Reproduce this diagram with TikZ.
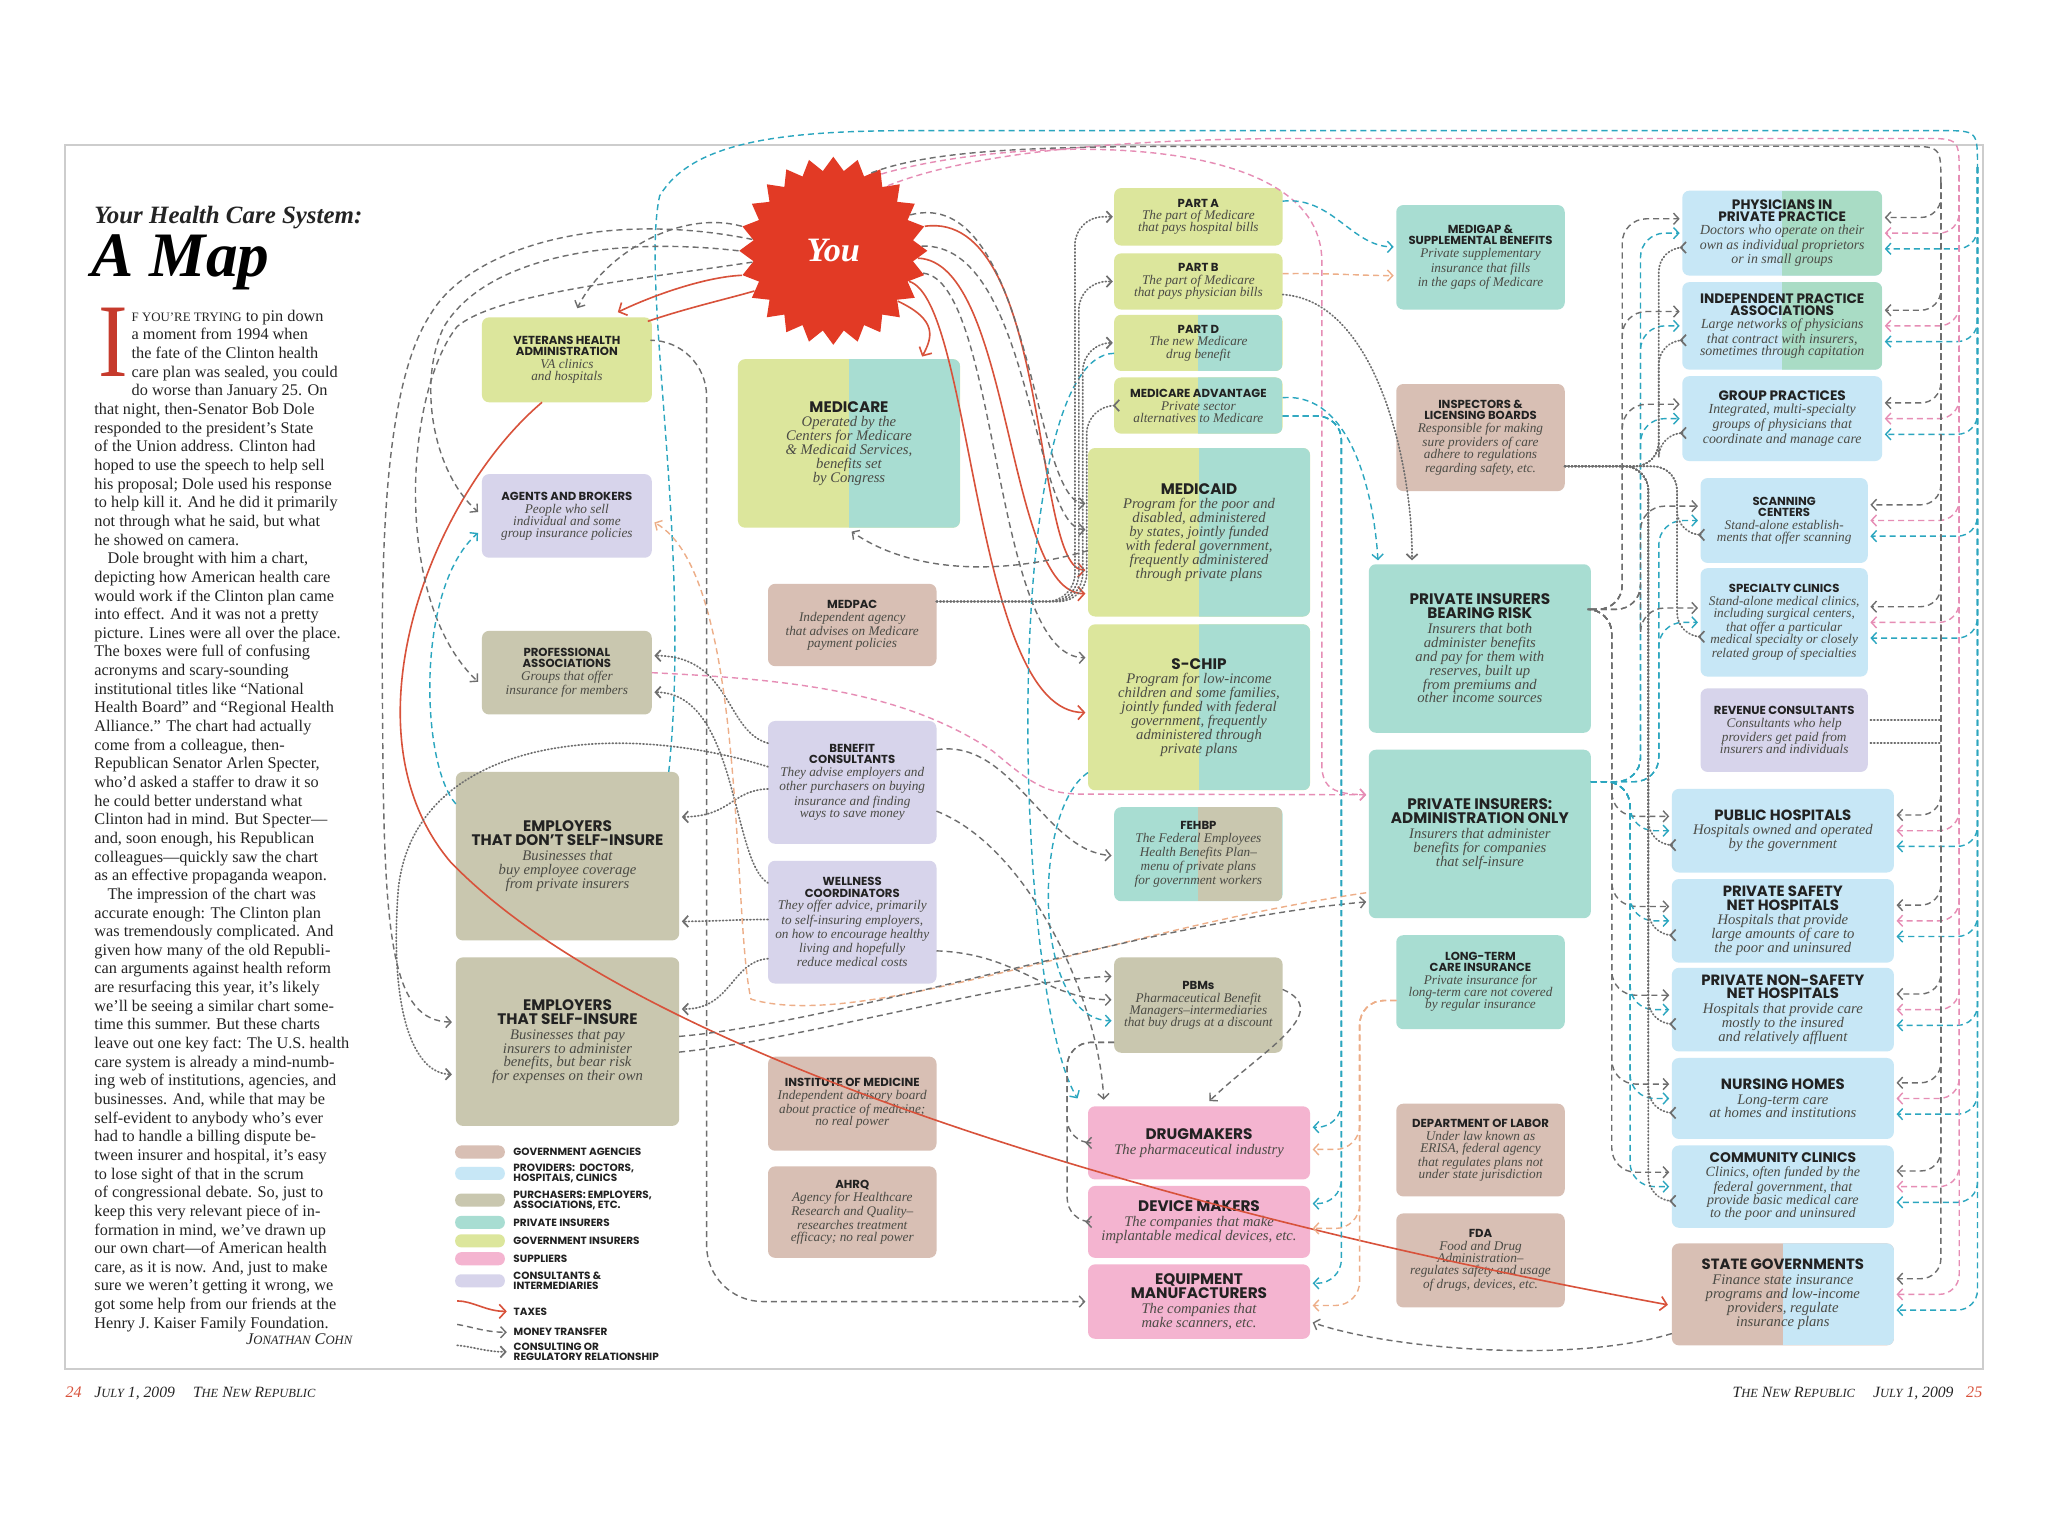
\documentclass[tikz,border=0pt]{standalone}
\usepackage{fontspec}
\setmainfont{Liberation Serif}
\newfontfamily\hd{Poppins}
\usepackage{graphicx}
\usetikzlibrary{shapes.geometric,arrows.meta,calc}
\newlength\un\setlength\un{0.65pt}
\definecolor{gvag}{HTML}{D8BFB4}
\definecolor{prov}{HTML}{C7E7F6}
\definecolor{purc}{HTML}{C9C7AF}
\definecolor{pins}{HTML}{A8DDD2}
\definecolor{gins}{HTML}{DCE69C}
\definecolor{supp}{HTML}{F4B4D0}
\definecolor{cons}{HTML}{D7D4EB}
\definecolor{physg}{HTML}{A9DCC5}
\definecolor{starred}{HTML}{E23A25}
\definecolor{taxred}{HTML}{D8523B}
\definecolor{dropred}{HTML}{C63A2C}
\definecolor{cg}{HTML}{6E6E6E}
\definecolor{ct}{HTML}{2BA6BF}
\definecolor{cp}{HTML}{E68DB5}
\definecolor{co}{HTML}{EDAE88}
\definecolor{ttext}{HTML}{222222}
\definecolor{dtext}{HTML}{4B4B45}
\definecolor{btext}{HTML}{242424}
\definecolor{framec}{HTML}{CDCDCD}
\def\tsz{5.8}\def\tld{5.5}\def\dsz{6.6}\def\dld{6.0}
\newcommand\fsc[2]{#1{\fontsize{6.2}{6.5}\selectfont #2}}
\newcommand\bx[7]{\node[bxs,#5,minimum width=#3*\un,minimum height=#4*\un] (#1) at #2
 {\begin{minipage}{\dimexpr#3\un-4pt\relax}\centering
 {\hd\bfseries\fontsize{\tsz}{\tld}\selectfont\color{ttext}#6\par}\vspace{0.4pt}
 {\itshape\fontsize{\dsz}{\dld}\selectfont\color{dtext}#7\par}\end{minipage}};}
\tikzset{
 bxs/.style={rounded corners=3.5pt,inner sep=0pt,outer sep=0pt},
 half/.style={path picture={\fill[#1,sharp corners] (path picture bounding box.north) rectangle (path picture bounding box.south east);}},
 tfont/.code 2 args={\def\tsz{#1}\def\tld{#2}},
 dfont/.code 2 args={\def\dsz{#1}\def\dld{#2}},
 szS/.style={tfont={5.8}{5.5},dfont={6.6}{6.0}},
 szM/.style={tfont={6.8}{6.2},dfont={6.9}{6.0}},
 szL/.style={tfont={7.6}{7.1},dfont={7.3}{6.9}},
 atip/.style={-{Straight Barb[length=2.6pt,width=5.6pt]}},
 tax/.style={draw=taxred,line width=0.8pt,-{Straight Barb[length=3.2pt,width=7pt]}},
 mon/.style={line width=0.7pt,dash pattern=on 3pt off 2pt,atip},
 con/.style={line width=0.85pt,dash pattern=on 0.5pt off 1.2pt,line cap=round,atip},
 lgsw/.style={rounded corners=3pt,minimum width=38*\un,minimum height=10*\un,inner sep=0pt},
 lgtx/.style={anchor=west,inner sep=0pt,align=left,text=ttext,font=\hd\bfseries\fontsize{5.2}{4.9}\selectfont},
 btx/.style={anchor=north west,align=left,inner sep=0pt,text=btext,font=\fontsize{8.1}{9.28}\selectfont},
}
\begin{document}
\begin{tikzpicture}[x=0.65pt,y=-0.65pt]
\useasboundingbox[fill=white] (0,0) rectangle (1568,1176);
\draw[framec,line width=0.9pt] (50,111) rectangle (1518,1048);
% ---------------- left text column
\node[anchor=base west,inner sep=0pt,text=btext,font=\fontsize{12.4}{13}\selectfont\bfseries\itshape] (ttl) at (72,171) {Your Health Care System:};
\node[anchor=base west,inner sep=0pt,text=black,font=\fontsize{31.5}{31.5}\selectfont\bfseries\itshape] (amap) at (70,212) {A Map};
\node[anchor=base west,inner sep=0pt,text=dropred,font=\fontsize{52}{52}\selectfont] (dcap) at (75,288) {\scalebox{0.85}[1]{I}};
\node[btx] (body1) at (100.5,237) {%
{\fontsize{6.4}{9.28}\selectfont F YOU’RE TRYING} to pin down\\
a moment from 1994 when\\
the fate of the Clinton health\\
care plan was sealed, you could\\
do worse than January 25. On};
\node[btx] (body2) at (72,308.4) {%
that night, then-Senator Bob Dole\\
responded to the president’s State\\
of the Union address. Clinton had\\
hoped to use the speech to help sell\\
his proposal; Dole used his response\\
to help kill it. And he did it primarily\\
not through what he said, but what\\
he showed on camera.\\
\hspace*{6.5pt}Dole brought with him a chart,\\
depicting how American health care\\
would work if the Clinton plan came\\
into effect. And it was not a pretty\\
picture. Lines were all over the place.\\
The boxes were full of confusing\\
acronyms and scary-sounding\\
institutional titles like “National\\
Health Board” and “Regional Health\\
Alliance.” The chart had actually\\
come from a colleague, then-\\
Republican Senator Arlen Specter,\\
who’d asked a staffer to draw it so\\
he could better understand what\\
Clinton had in mind. But Specter—\\
and, soon enough, his Republican\\
colleagues—quickly saw the chart\\
as an effective propaganda weapon.\\
\hspace*{6.5pt}The impression of the chart was\\
accurate enough: The Clinton plan\\
was tremendously complicated. And\\
given how many of the old Republi-\\
can arguments against health reform\\
are resurfacing this year, it’s likely\\
we’ll be seeing a similar chart some-\\
time this summer. But these charts\\
leave out one key fact: The U.S. health\\
care system is already a mind-numb-\\
ing web of institutions, agencies, and\\
businesses. And, while that may be\\
self-evident to anybody who’s ever\\
had to handle a billing dispute be-\\
tween insurer and hospital, it’s easy\\
to lose sight of that in the scrum\\
of congressional debate. So, just to\\
keep this very relevant piece of in-\\
formation in mind, we’ve drawn up\\
our own chart—of American health\\
care, as it is now. And, just to make\\
sure we weren’t getting it wrong, we\\
got some help from our friends at the\\
Henry J. Kaiser Family Foundation.};
\node[anchor=base east,inner sep=0pt,text=btext,font=\fontsize{8.1}{9}\selectfont\itshape] (sig) at (270,1029) {J{\fontsize{6.3}{9}\selectfont ONATHAN} C{\fontsize{6.3}{9}\selectfont OHN}};
% ---------------- footer
\node[anchor=base west,inner sep=0pt,text=taxred,font=\fontsize{8}{8}\selectfont\itshape] (pgl) at (50,1070) {24};
\node[anchor=base west,inner sep=0pt,text=btext,font=\fontsize{7.8}{8}\selectfont\itshape] (ftl) at (72,1070) {\fsc{J}{ULY} 1, 2009\hspace{9pt}\fsc{T}{HE} \fsc{N}{EW} \fsc{R}{EPUBLIC}};
\node[anchor=base east,inner sep=0pt,text=btext,font=\fontsize{7.8}{8}\selectfont\itshape] (ftr) at (1496,1070) {\fsc{T}{HE} \fsc{N}{EW} \fsc{R}{EPUBLIC}\hspace{9pt}\fsc{J}{ULY} 1, 2009};
\node[anchor=base east,inner sep=0pt,text=taxred,font=\fontsize{8}{8}\selectfont\itshape] (pgr) at (1518,1070) {25};
% ---------------- boxes
\bx{vha}{(434,275.5)}{130}{65}{fill=gins,szS}{VETERANS HEALTH\\ADMINISTRATION}{VA clinics\\and hospitals}
\bx{agents}{(434,395)}{130}{64}{fill=cons,szS}{AGENTS AND BROKERS}{People who sell\\individual and some\\group insurance policies}
\bx{prof}{(434,515)}{130}{64}{fill=purc,szS}{PROFESSIONAL\\ASSOCIATIONS}{Groups that offer\\insurance for members}
\bx{empd}{(434.5,655.5)}{171}{129}{fill=purc,szL}{EMPLOYERS\\THAT DON’T SELF-INSURE}{Businesses that\\buy employee coverage\\from private insurers}
\bx{emps}{(434.5,797.5)}{171}{129}{fill=purc,szL}{EMPLOYERS\\THAT SELF-INSURE}{Businesses that pay\\insurers to administer\\benefits, but bear risk\\for expenses on their own}
\bx{medicare}{(650,339.5)}{170}{129}{fill=gins,half=pins,szL}{MEDICARE}{Operated by the\\Centers for Medicare\\\& Medicaid Services,\\benefits set\\by Congress}
\bx{medpac}{(652.5,478.5)}{129}{63}{fill=gvag,szS}{MEDPAC}{Independent agency\\that advises on Medicare\\payment policies}
\bx{bencon}{(652.5,599)}{129}{94}{fill=cons,szS}{BENEFIT\\CONSULTANTS}{They advise employers and\\other purchasers on buying\\insurance and finding\\ways to save money}
\bx{well}{(652.5,706)}{129}{94}{fill=cons,szS}{WELLNESS\\COORDINATORS}{They offer advice, primarily\\to self-insuring employers,\\on how to encourage healthy\\living and hopefully\\reduce medical costs}
\bx{iom}{(652.5,845)}{129}{72}{fill=gvag,szS}{INSTITUTE OF MEDICINE}{Independent advisory board\\about practice of medicine;\\no real power}
\bx{ahrq}{(652.5,928)}{129}{70}{fill=gvag,szS}{AHRQ}{Agency for Healthcare\\Research and Quality–\\researches treatment\\efficacy; no real power}
\bx{partA}{(917.5,166)}{129}{44}{fill=gins,szS}{PART A}{The part of Medicare\\that pays hospital bills}
\bx{partB}{(917.5,215.5)}{129}{43}{fill=gins,szS}{PART B}{The part of Medicare\\that pays physician bills}
\bx{partD}{(917.5,262.5)}{129}{43}{fill=gins,half=pins,szS}{PART D}{The new Medicare\\drug benefit}
\bx{ma}{(917.5,310.5)}{129}{43}{fill=gins,half=pins,szS}{MEDICARE ADVANTAGE}{Private sector\\alternatives to Medicare}
\bx{medicaid}{(918,407.5)}{170}{129}{fill=gins,half=pins,szL}{MEDICAID}{Program for the poor and\\disabled, administered\\by states, jointly funded\\with federal government,\\frequently administered\\through private plans}
\bx{schip}{(918,541.5)}{170}{127}{fill=gins,half=pins,szL}{S-CHIP}{Program for low-income\\children and some families,\\jointly funded with federal\\government, frequently\\administered through\\private plans}
\bx{fehbp}{(917.5,654)}{129}{72}{fill=pins,half=purc,szS}{FEHBP}{The Federal Employees\\Health Benefits Plan–\\menu of private plans\\for government workers}
\bx{pbm}{(917.5,769.5)}{129}{73}{fill=purc,szS}{PBMs}{Pharmaceutical Benefit\\Managers–intermediaries\\that buy drugs at a discount}
\bx{drug}{(918,875)}{170}{56}{fill=supp,szL}{DRUGMAKERS}{The pharmaceutical industry}
\bx{device}{(918,935.5)}{170}{55}{fill=supp,szL}{DEVICE MAKERS}{The companies that make\\implantable medical devices, etc.}
\bx{equip}{(918,996.5)}{170}{57}{fill=supp,szL}{EQUIPMENT\\MANUFACTURERS}{The companies that\\make scanners, etc.}
\bx{medigap}{(1133.5,197)}{129}{80}{fill=pins,szS}{MEDIGAP \&\\SUPPLEMENTAL BENEFITS}{Private supplementary\\insurance that fills\\in the gaps of Medicare}
\bx{inspect}{(1133.5,335)}{129}{82}{fill=gvag,szS}{INSPECTORS \&\\LICENSING BOARDS}{Responsible for making\\sure providers of care\\adhere to regulations\\regarding safety, etc.}
\bx{pibr}{(1133,496.5)}{170}{129}{fill=pins,szL}{PRIVATE INSURERS\\BEARING RISK}{Insurers that both\\administer benefits\\and pay for them with\\reserves, built up\\from premiums and\\other income sources}
\bx{pia}{(1133,638.5)}{170}{129}{fill=pins,szL}{PRIVATE INSURERS:\\ADMINISTRATION ONLY}{Insurers that administer\\benefits for companies\\that self-insure}
\bx{ltc}{(1133.5,752)}{129}{72}{fill=pins,szS}{LONG-TERM\\CARE INSURANCE}{Private insurance for\\long-term care not covered\\by regular insurance}
\bx{dol}{(1133.5,880.5)}{129}{71}{fill=gvag,szS}{DEPARTMENT OF LABOR}{Under law known as\\ERISA, federal agency\\that regulates plans not\\under state jurisdiction}
\bx{fda}{(1133.5,965)}{129}{72}{fill=gvag,szS}{FDA}{Food and Drug\\Administration–\\regulates safety and usage\\of drugs, devices, etc.}
\bx{phys}{(1364.5,178.5)}{153}{65}{fill=prov,half=physg,szM}{PHYSICIANS IN\\PRIVATE PRACTICE}{Doctors who operate on their\\own as individual proprietors\\or in small groups}
\bx{ipa}{(1364.5,249.5)}{153}{67}{fill=prov,half=physg,szM}{INDEPENDENT PRACTICE\\ASSOCIATIONS}{Large networks of physicians\\that contract with insurers,\\sometimes through capitation}
\bx{group}{(1364.5,320.5)}{153}{65}{fill=prov,szM}{GROUP PRACTICES}{Integrated, multi-specialty\\groups of physicians that\\coordinate and manage care}
\bx{scan}{(1366,398.5)}{128}{65}{fill=prov,szS}{SCANNING\\CENTERS}{Stand-alone establish-\\ments that offer scanning}
\bx{spec}{(1366,476.5)}{128}{83}{fill=prov,szS}{SPECIALTY CLINICS}{Stand-alone medical clinics,\\including surgical centers,\\that offer a particular\\medical specialty or closely\\related group of specialties}
\bx{rev}{(1366,559)}{128}{64}{fill=cons,szS}{REVENUE CONSULTANTS}{Consultants who help\\providers get paid from\\insurers and individuals}
\bx{pubh}{(1365,636)}{170}{64}{fill=prov,szL,tfont={7.4}{6.9}}{PUBLIC HOSPITALS}{Hospitals owned and operated\\by the government}
\bx{psn}{(1365,705)}{170}{64}{fill=prov,szL,tfont={7.4}{6.6}}{PRIVATE SAFETY\\NET HOSPITALS}{Hospitals that provide\\large amounts of care to\\the poor and uninsured}
\bx{pns}{(1365,773)}{170}{64}{fill=prov,szL,tfont={7.4}{6.6}}{PRIVATE NON-SAFETY\\NET HOSPITALS}{Hospitals that provide care\\mostly to the insured\\and relatively affluent}
\bx{nh}{(1365,841)}{170}{62}{fill=prov,szL,tfont={7.4}{6.9}}{NURSING HOMES}{Long-term care\\at homes and institutions}
\bx{cc}{(1365,908.5)}{170}{63}{fill=prov,szL,tfont={6.9}{6.5},dfont={7}{6.4}}{COMMUNITY CLINICS}{Clinics, often funded by the\\federal government, that\\provide basic medical care\\to the poor and uninsured}
\bx{stateg}{(1365,991)}{170}{78}{fill=gvag,half=prov,szL,tfont={7.4}{6.9}}{STATE GOVERNMENTS}{Finance state insurance\\programs and low-income\\providers, regulate\\insurance plans}
% ---------------- star
\node[star,star points=24,star point ratio=1.17,minimum size=144*\un,fill=starred,inner sep=0pt,text=white,font=\fontsize{17}{17}\selectfont\bfseries\itshape] (you) at (638,192) {You};
% ---------------- legend
\foreach \yy/\cc/\nn in {882/gvag/lgA,898.4/prov/lgB,918.8/purc/lgC,935.9/pins/lgD,950/gins/lgE,963.7/supp/lgF,980.6/cons/lgG}
  \node[lgsw,fill=\cc] (\nn) at (367.5,\yy) {};
\node[lgtx] (lgAt) at ($(lgA.east)+(6,0)$) {GOVERNMENT AGENCIES};
\node[lgtx] (lgBt) at ($(lgB.east)+(6,0)$) {PROVIDERS:\ \ DOCTORS,\\HOSPITALS, CLINICS};
\node[lgtx] (lgCt) at ($(lgC.east)+(6,0)$) {PURCHASERS: EMPLOYERS,\\ASSOCIATIONS, ETC.};
\node[lgtx] (lgDt) at ($(lgD.east)+(6,0)$) {PRIVATE INSURERS};
\node[lgtx] (lgEt) at ($(lgE.east)+(6,0)$) {GOVERNMENT INSURERS};
\node[lgtx] (lgFt) at ($(lgF.east)+(6,0)$) {SUPPLIERS};
\node[lgtx] (lgGt) at ($(lgG.east)+(6,0)$) {CONSULTANTS \&\\INTERMEDIARIES};
\coordinate (la1) at (350,996); \coordinate (la2) at (388,1004);
\coordinate (lb1) at (350,1014); \coordinate (lb2) at (388,1020);
\coordinate (lc1) at (350,1030); \coordinate (lc2) at (388,1035);
\draw[tax] (la1) .. controls (362,996) and (372,1004) .. (la2);
\draw[mon,cg] (lb1) .. controls (362,1016) and (372,1020) .. (lb2);
\draw[con,cg] (lc1) .. controls (362,1031) and (372,1035) .. (lc2);
\node[lgtx] (lgTa) at ($(la2)+(5,0)$) {TAXES};
\node[lgtx] (lgMo) at ($(lb2)+(5,0)$) {MONEY TRANSFER};
\node[lgtx] (lgCo) at ($(lc2)+(5,0)$) {CONSULTING OR\\REGULATORY RELATIONSHIP};
% ---------------- trunk coordinates
\coordinate (tT) at (1514,100); \coordinate (tT2) at (1514,128);
\coordinate (tP) at (1500,106); \coordinate (tP2) at (1500,134);
\coordinate (tG) at (1486,112); \coordinate (tG2) at (1486,140);
% ---------------- top feeds
\draw[mon,ct,-] ($(empd.north east)+(-8,0)$) .. controls (530,420) and (490,220) .. (505,150) .. controls (530,108) and (600,100) .. (700,100) -- ($(tT)+(-28,0)$) .. controls (tT) .. (tT2);
\draw[mon,cp,-] (you.50) .. controls (740,118) and (850,106) .. (1000,106) -- ($(tP)+(-28,0)$) .. controls (tP) .. (tP2);
\draw[mon,cg,-] (you.64) .. controls (720,112) and (820,112) .. (950,112) -- ($(tG)+(-28,0)$) .. controls (tG) .. (tG2);
\draw[mon,cp] (you.58) .. controls (770,105) and (1012,95) .. (1012,200) -- (1012,585) .. controls (1012,604) and (1022,608) .. ($(pia.west)+(-2,-30)$);
% ---------------- taxes
\draw[tax] (you.195) .. controls (540,212) and (500,226) .. ($(vha.north east)+(-26,-4)$);
\draw[tax,-] (you.207) .. controls (560,228) and (525,236) .. ($(vha.north east)+(-3,3)$);
\draw[tax] ($(vha.south)+(-19,0)$) .. controls (330,380) and (260,560) .. (345,660) .. controls (480,800) and (850,920) .. ($(stateg.west)+(-3,8)$);
\draw[tax] (you.-38) .. controls (718,245) and (714,258) .. ($(medicare.north)+(56,-2)$);
\draw[tax] (you.15) .. controls (805,160) and (790,436) .. ($(medicaid.west)+(-2,29)$);
\draw[tax] (you.-5) .. controls (775,200) and (770,455) .. ($(medicaid.west)+(-2,47)$);
\draw[tax] (you.-22) .. controls (745,230) and (745,546) .. ($(schip.west)+(-2,4)$);
% ---------------- you -> others (money)
\draw[mon,cg] (you.25) .. controls (790,140) and (790,385) .. ($(medicaid.west)+(-2,-22)$);
\draw[mon,cg] (you.3) .. controls (790,185) and (790,405) .. ($(medicaid.west)+(-2,-2)$);
\draw[mon,cg] (you.-14) .. controls (765,215) and (760,504) .. ($(schip.west)+(-2,-38)$);
\draw[mon,cg] (you.165) .. controls (520,160) and (462,195) .. ($(vha.north)+(8,-7)$);
\draw[mon,cg] (you.180) .. controls (460,180) and (370,200) .. (340,250) .. controls (320,290) and (330,360) .. ($(agents.west)+(-3,-3)$);
\draw[mon,cg] (you.188) .. controls (480,215) and (380,225) .. (350,250) .. controls (310,300) and (300,460) .. ($(prof.west)+(-3,7)$);
\draw[mon,cg] (you.172) .. controls (460,160) and (360,190) .. (330,240) .. controls (290,300) and (292,450) .. (293,560) .. controls (294,720) and (300,782) .. ($(emps.west)+(-3,-15)$);
\draw[con,cg] ($(bencon.west)+(0,-12)$) .. controls (470,550) and (318,565) .. (305,680) .. controls (298,770) and (315,822) .. ($(emps.west)+(-3,25)$);
\draw[mon,ct] ($(empd.west)+(0,-40)$) .. controls (322,585) and (318,450) .. ($(agents.west)+(-3,13)$);
% ---------------- left middle
\draw[con,cg] ($(bencon.west)+(0,-30)$) .. controls (555,560) and (560,502) .. ($(prof.east)+(2,-13)$);
\draw[con,cg] ($(well.west)+(0,-30)$) .. controls (560,660) and (565,530) .. ($(prof.east)+(2,15)$);
\draw[con,cg] ($(bencon.west)+(0,5)$) .. controls (560,605) and (560,625) .. ($(empd.east)+(2,-30)$);
\draw[con,cg] ($(well.west)+(0,-2)$) .. controls (560,704) and (560,705) .. ($(empd.east)+(2,50)$);
\draw[con,cg] ($(well.west)+(0,28)$) .. controls (560,736) and (560,773) .. ($(emps.east)+(2,-25)$);
\draw[mon,cp] (prof.east) .. controls (600,520) and (690,528) .. (760,575) .. controls (790,600) and (800,608) .. (830,608) -- ($(pia.west)+(-2,-30)$);
\draw[mon,co] ($(pia.west)+(-2,45)$) .. controls (850,712) and (660,790) .. (575,765) .. controls (560,700) and (572,440) .. ($(agents.east)+(2,5)$);
\draw[mon,cg] ($(emps.east)+(0,8)$) .. controls (620,795) and (770,750) .. ($(pbm.west)+(-2,-22)$);
\draw[mon,cg] ($(emps.east)+(0,-4)$) .. controls (650,782) and (880,705) .. ($(pia.west)+(-2,52)$);
\draw[mon,cg] ($(well.east)+(0,22)$) .. controls (780,730) and (800,765) .. ($(pbm.west)+(-2,-4)$);
\draw[mon,ct] ($(schip.west)+(0,50)$) .. controls (790,620) and (790,781) .. ($(pbm.west)+(-2,12)$);
\draw[mon,cg] ($(bencon.east)+(0,-25)$) .. controls (775,565) and (800,652) .. ($(fehbp.west)+(-2,1)$);
\draw[mon,cg] ($(bencon.east)+(0,22)$) .. controls (790,650) and (842,770) .. ($(drug.north west)+(12,-5)$);
\draw[mon,ct] ($(partD.west)+(0,8)$) .. controls (765,272) and (775,760) .. ($(drug.north west)+(-8,-6)$);
\draw[mon,cg] ($(pbm.east)+(0,-12)$) .. controls (1022,775) and (965,805) .. ($(drug.north)+(8,-4)$);
\draw[mon,cg] ($(medicaid.west)+(0,14)$) .. controls (770,440) and (700,440) .. ($(medicare.south)+(2,3)$);
\foreach \nm/\dx in {partA/-30,partB/-27,partD/-24,ma/-21}
  \draw[con,cg,rounded corners=14] ($(medpac.east)+(0,-18)$) -| ($(\nm.west)+(\dx,0)$) -- ($(\nm.west)+(-1,0)$);
\draw[mon,cg,rounded corners=28] ($(vha.east)+(0,-15)$) -| ($(equip.west)+(-292,0)$) -- ($(equip.west)+(-2,0)$);
\foreach \nm in {drug,device}
  \draw[mon,cg,rounded corners=12] ($(pbm.south west)+(0,-8)$) -| ($(\nm.west)+(-16,0)$) -- ($(\nm.west)+(-2,0)$);
% ---------------- insurers
\draw[mon,ct] ($(partA.east)+(0,-12)$) .. controls (1020,150) and (1035,189) .. ($(medigap.west)+(-2,-8)$);
\draw[mon,co] ($(partB.east)+(0,-6)$) .. controls (1020,209) and (1040,211) .. ($(medigap.west)+(-2,14)$);
\draw[mon,ct] ($(ma.east)+(0,-6)$) .. controls (1035,300) and (1052,380) .. ($(pibr.north)+(-78,-3)$);
\draw[con,cg] ($(partB.east)+(0,10)$) .. controls (1055,230) and (1082,360) .. ($(pibr.north)+(-52,-3)$);
\foreach \nm/\dy in {drug/-12,device/-14,equip/-14}
  \draw[mon,ct,rounded corners=12] ($(ma.east)+(0,8)$) -| ($(\nm.east)+(24,\dy)$) -- ($(\nm.east)+(2,\dy)$);
\foreach \nm/\dy in {drug/5,device/5,equip/3}
  \draw[mon,co,rounded corners=12] ($(ltc.west)+(0,14)$) -| ($(\nm.east)+(38,\dy)$) -- ($(\nm.east)+(2,\dy)$);
\draw[mon,cg] ($(stateg.west)+(0,30)$) .. controls (1200,1045) and (1060,1032) .. ($(equip.east)+(2,16)$);
% ---------------- providers, left side
\foreach \nm in {phys,ipa,group,scan,spec,pubh,psn,pns,nh,cc}{
  \draw[mon,cg,rounded corners=12] ($(pibr.east)+(0,-30)$) -| ($(\nm.west)+(-46,-11)$) -- ($(\nm.west)+(-2,-11)$);
  \draw[mon,ct,rounded corners=12] ($(pia.east)+(0,-40)$) -| ($(\nm.west)+(-32,0)$) -- ($(\nm.west)+(-2,0)$);
  \draw[con,cg,rounded corners=12] ($(inspect.east)+(0,22)$) -| ($(\nm.west)+(-18,11)$) -- ($(\nm.west)+(-2,11)$);
}
% ---------------- providers, right side
\foreach \nm in {phys,ipa,group,scan,spec,pubh,psn,pns,nh,cc,stateg}{
  \draw[mon,cg,rounded corners=10] (tG2) |- ($(\nm.east)+(2,-12)$);
  \draw[mon,cp,rounded corners=10] (tP2) |- ($(\nm.east)+(2,0)$);
  \draw[mon,ct,rounded corners=10] (tT2) |- ($(\nm.east)+(2,12)$);
}
\draw[con,cg,-] ($(rev.east)+(2,-8)$) -- ($(rev.east)+(56,-8)$);
\draw[con,cg,-] ($(rev.east)+(2,10)$) -- ($(rev.east)+(56,10)$);
\end{tikzpicture}
\end{document}
